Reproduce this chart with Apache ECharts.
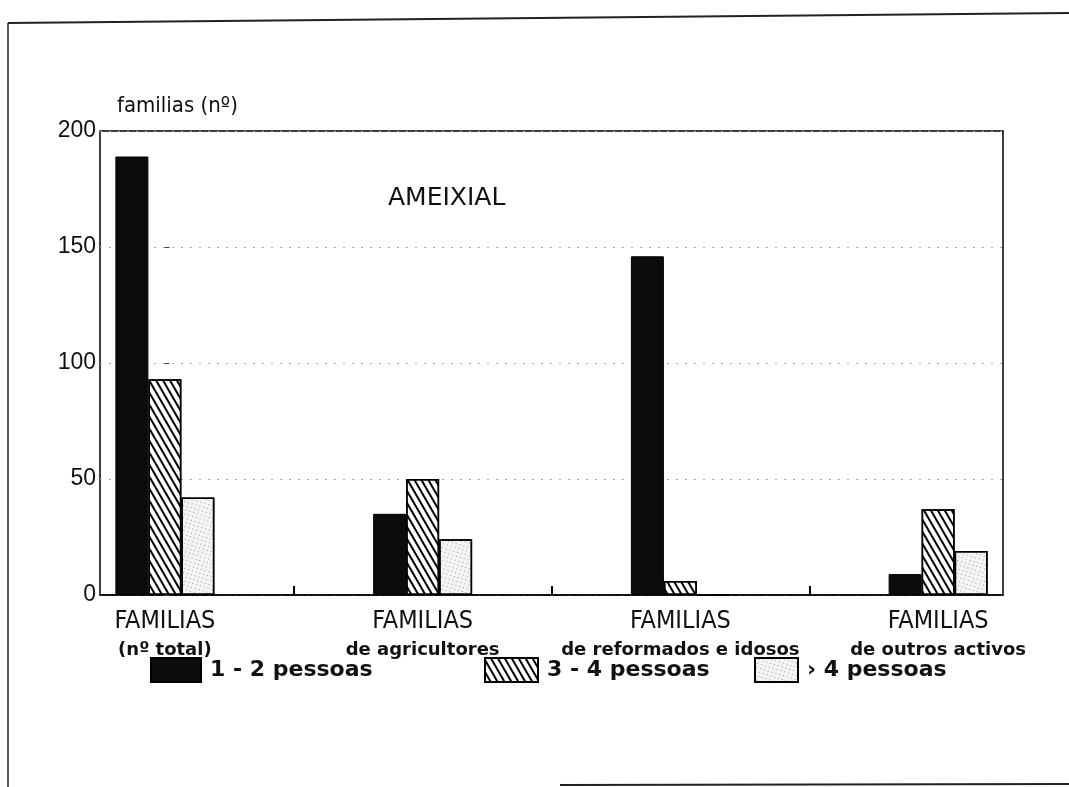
<!DOCTYPE html>
<html>
<head>
<meta charset="utf-8">
<script src="https://cdn.jsdelivr.net/npm/echarts@6/dist/echarts.min.js"></script>
<style>html,body{margin:0;padding:0;background:#fff;}#c{width:1069px;height:787px;}</style>
</head>
<body>
<div id="c"></div>
<script>
const categories = ['FAMILIAS\n(nº total)', 'FAMILIAS\nde agricultores', 'FAMILIAS\nde reformados e idosos', 'FAMILIAS\nde outros activos'];
const seriesNames = ['1 - 2 pessoas', '3 - 4 pessoas', '› 4 pessoas'];
const onetwo = [189, 35, 146, 9];
const threefour = [93, 50, 6, 37];
const morefour = [42, 24, 0, 19];
const yTicks = [0, 50, 100, 150, 200];
const groupBoundaries = [0.5, 1.5, 2.5];

const narrow = "'Liberation Sans Narrow', 'DejaVu Sans Condensed', 'Liberation Sans', sans-serif";
const sans = "'Liberation Sans', Arial, sans-serif";
const wide = "'DejaVu Sans', Verdana, sans-serif";

const chart = echarts.init(document.getElementById('c'), null, {renderer: 'canvas'});

const hatch = {symbol: 'rect', symbolSize: 1, color: '#000', dashArrayX: [1, 0], dashArrayY: [1.6, 3.6], rotation: Math.PI / 3};
const dots = {symbol: 'rect', symbolSize: 1, color: '#9a9a9a', dashArrayX: [1, 3], dashArrayY: [1, 3], rotation: 0.3};

chart.setOption({
  animation: false,
  backgroundColor: '#fff',
  title: [
    {text: 'AMEIXIAL', left: 388, top: 186, padding: 0,
     textStyle: {fontFamily: wide, fontSize: 25, fontWeight: 'normal', color: '#111'}},
    {text: 'familias (nº)', left: 117, top: 95, padding: 0,
     textStyle: {fontFamily: narrow, fontSize: 22, fontWeight: 'normal', color: '#111'}}
  ],
  graphic: [
    {type: 'line', shape: {x1: 8, y1: 23, x2: 8, y2: 787}, style: {stroke: '#222', lineWidth: 1.5}},
    {type: 'line', shape: {x1: 8, y1: 23, x2: 1069, y2: 13}, style: {stroke: '#222', lineWidth: 2}},
    {type: 'line', shape: {x1: 560, y1: 785, x2: 1069, y2: 784}, style: {stroke: '#222', lineWidth: 2}}
  ],
  legend: [0, 1, 2].map((i) => ({
    data: [seriesNames[i]],
    left: [150, 484, 754][i], top: 657, padding: 0,
    icon: 'rect',
    itemWidth: [50, 53, 43][i], itemHeight: 24, itemGap: 0,
    textStyle: {fontFamily: wide, fontSize: 22, fontWeight: 'bold', color: '#111', padding: [0, 0, 0, 4]},
    selectedMode: false
  })),
  grid: [
    {left: 100, right: 66, top: 131, bottom: 192, show: true, borderColor: '#000', borderWidth: 1.5, backgroundColor: 'transparent'},
    {left: 36, right: 2, top: 131, bottom: 192}
  ],
  xAxis: [
    {
      type: 'value', gridIndex: 0, min: -0.25, max: 3.25,
      axisLine: {show: true, lineStyle: {color: '#000', width: 1.5}},
      axisTick: {show: true, inside: true, length: 9, customValues: groupBoundaries, lineStyle: {color: '#000', width: 2}},
      axisLabel: {show: false}, splitLine: {show: false}
    },
    {
      type: 'category', gridIndex: 1, data: categories,
      axisLine: {show: false}, axisTick: {show: false},
      axisLabel: {
        interval: 0, margin: 8,
        formatter: (v) => { const p = v.split('\n'); return '{a|' + p[0] + '}\n{b|' + p[1] + '}'; },
        rich: {
          a: {fontFamily: narrow, fontSize: 25, lineHeight: 36, color: '#111', align: 'center'},
          b: {fontFamily: wide, fontSize: 18, fontWeight: 'bold', lineHeight: 22, color: '#111', align: 'center'}
        }
      }
    }
  ],
  yAxis: [
    {
      type: 'value', gridIndex: 0, min: yTicks[0], max: yTicks[yTicks.length - 1], interval: 50,
      axisLine: {show: false},
      axisTick: {show: true, inside: true, length: 5, lineStyle: {color: '#444'}},
      axisLabel: {fontFamily: sans, fontSize: 23, color: '#111', margin: 4},
      splitLine: {show: true, lineStyle: {color: '#aaa', width: 1, type: [2, 7]}}
    },
    {type: 'value', gridIndex: 1, min: 0, max: 200, show: false}
  ],
  series: [
    {
      name: seriesNames[0], type: 'bar', xAxisIndex: 1, yAxisIndex: 1, data: onetwo,
      barWidth: 33, barGap: '0%',
      itemStyle: {color: '#0c0c0c', borderColor: '#000', borderWidth: 1}
    },
    {
      name: seriesNames[1], type: 'bar', xAxisIndex: 1, yAxisIndex: 1, data: threefour,
      barWidth: 33, barGap: '0%',
      itemStyle: {color: '#fff', borderColor: '#000', borderWidth: 1.5, decal: hatch}
    },
    {
      name: seriesNames[2], type: 'bar', xAxisIndex: 1, yAxisIndex: 1, data: morefour,
      barWidth: 33, barGap: '0%',
      itemStyle: {color: '#f4f4f4', borderColor: '#000', borderWidth: 1.5, decal: dots}
    }
  ]
});
</script>
</body>
</html>
